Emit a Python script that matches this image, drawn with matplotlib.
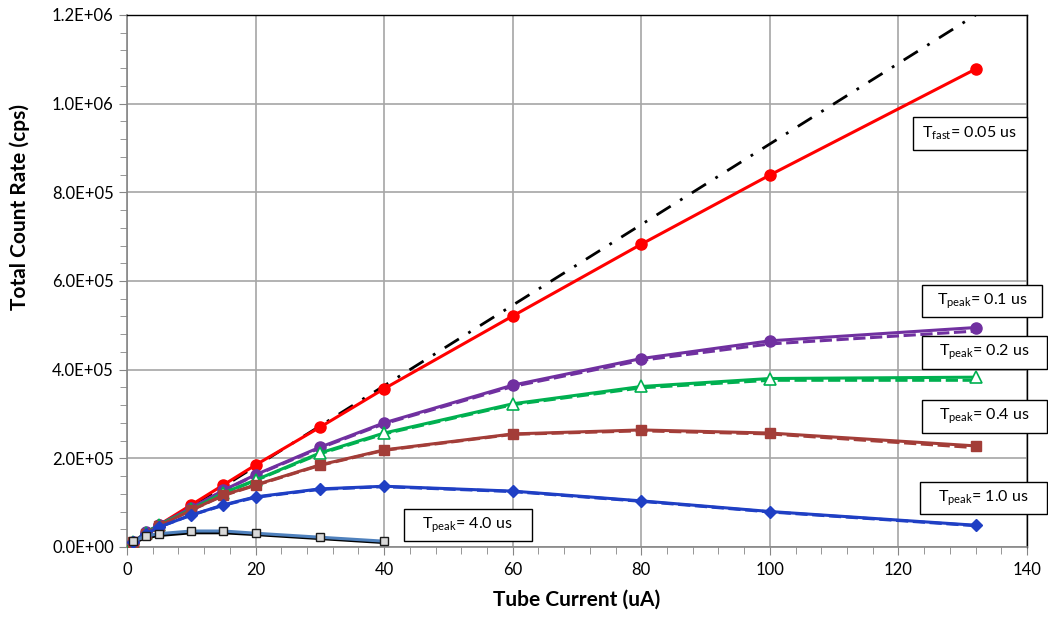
import numpy as np
import matplotlib.pyplot as plt
from matplotlib.patches import Rectangle
from matplotlib.ticker import MultipleLocator, FuncFormatter

plt.rcParams['font.family'] = ['Lato', 'DejaVu Sans']
plt.rcParams['mathtext.fontset'] = 'custom'
plt.rcParams['mathtext.rm'] = 'Lato'
plt.rcParams['mathtext.it'] = 'Lato'

# tube current (uA)
current = [1, 3, 5, 10, 15, 20, 30, 40, 60, 80, 100, 132]
current_4us = [1, 3, 5, 10, 15, 20, 30, 40]

# ideal (no dead time) line
ideal_x = [0, 132]
ideal_y = [0, 1.2e6]

# measured total count rates (cps)
fast_005 = [1.0e4, 3.0e4, 5.0e4, 9.5e4, 1.40e5, 1.85e5, 2.70e5, 3.57e5, 5.21e5, 6.83e5, 8.39e5, 1.078e6]
peak_01 = [1.1e4, 3.3e4, 5.0e4, 8.8e4, 1.28e5, 1.63e5, 2.25e5, 2.80e5, 3.65e5, 4.25e5, 4.65e5, 4.95e5]
peak_02 = [1.1e4, 3.2e4, 5.0e4, 8.5e4, 1.22e5, 1.51e5, 2.12e5, 2.57e5, 3.23e5, 3.62e5, 3.80e5, 3.83e5]
peak_04 = [1.1e4, 3.0e4, 4.8e4, 8.3e4, 1.17e5, 1.40e5, 1.85e5, 2.19e5, 2.55e5, 2.64e5, 2.57e5, 2.28e5]
peak_10 = [1.1e4, 3.0e4, 4.5e4, 7.2e4, 9.5e4, 1.13e5, 1.31e5, 1.37e5, 1.26e5, 1.04e5, 8.0e4, 4.9e4]
peak_40 = [1.3e4, 2.5e4, 3.0e4, 3.6e4, 3.6e4, 3.1e4, 2.2e4, 1.3e4]

# model curves (dashed / black)
peak_01_mod = [1.1e4, 3.3e4, 5.0e4, 8.8e4, 1.27e5, 1.62e5, 2.23e5, 2.78e5, 3.62e5, 4.21e5, 4.58e5, 4.87e5]
peak_02_mod = [1.1e4, 3.2e4, 5.0e4, 8.5e4, 1.21e5, 1.50e5, 2.10e5, 2.55e5, 3.21e5, 3.59e5, 3.76e5, 3.76e5]
peak_04_mod = [1.1e4, 3.0e4, 4.8e4, 8.3e4, 1.16e5, 1.39e5, 1.84e5, 2.18e5, 2.54e5, 2.62e5, 2.55e5, 2.24e5]
peak_10_mod = [1.1e4, 3.0e4, 4.5e4, 7.2e4, 9.4e4, 1.12e5, 1.30e5, 1.36e5, 1.25e5, 1.03e5, 7.9e4, 4.8e4]
peak_40_mod = [1.0e4, 2.1e4, 2.6e4, 3.2e4, 3.2e4, 2.8e4, 1.9e4, 1.0e4]

# annotation texts
label_text = [r'T$_{\mathrm{fast}}$= 0.05 us', r'T$_{\mathrm{peak}}$= 0.1 us',
              r'T$_{\mathrm{peak}}$= 0.2 us', r'T$_{\mathrm{peak}}$= 0.4 us',
              r'T$_{\mathrm{peak}}$= 1.0 us', r'T$_{\mathrm{peak}}$= 4.0 us']

fig = plt.figure(figsize=(10.48, 6.17), dpi=100)
ax = fig.add_axes([0.1212, 0.1135, 0.8588, 0.8622])

lw = 2.2
purple = '#7030a0'
green = '#00b050'
brown = '#a33d38'
blue = '#1f3fc4'

ax.plot(ideal_x, ideal_y, color='black', lw=2.0, dashes=(6, 4, 1, 4), zorder=3)

ax.plot(current, fast_005, color='#ff0000', lw=lw, marker='o', ms=8, zorder=4)

ax.plot(current, peak_01_mod, color=purple, lw=lw, ls=(0, (4, 1.5)), zorder=4)
ax.plot(current, peak_01, color=purple, lw=lw, marker='o', ms=8, zorder=5)

ax.plot(current, peak_02_mod, color=green, lw=lw, ls=(0, (4, 1.5)), zorder=4)
ax.plot(current, peak_02, color=green, lw=lw, marker='^', ms=8, mfc='white', mec=green, mew=1.2, zorder=5)

ax.plot(current, peak_04_mod, color=brown, lw=lw, ls=(0, (4, 1.5)), zorder=4)
ax.plot(current, peak_04, color=brown, lw=lw, marker='s', ms=7.5, zorder=5)

ax.plot(current, peak_10_mod, color=blue, lw=lw, ls=(0, (4, 1.5)), zorder=4)
ax.plot(current, peak_10, color=blue, lw=lw, marker='D', ms=6, zorder=5)

ax.plot(current_4us, peak_40_mod, color='black', lw=lw, zorder=4)
ax.plot(current_4us, peak_40, color='#4f81bd', lw=lw, marker='s', ms=6,
        mfc='#d9d9d9', mec='#1a1a1a', mew=1.0, zorder=5)

ax.set_xlim(0, 140)
ax.set_ylim(0, 1.2e6)
ax.xaxis.set_major_locator(MultipleLocator(20))
ax.xaxis.set_minor_locator(MultipleLocator(4))
ax.yaxis.set_major_locator(MultipleLocator(2e5))
ax.yaxis.set_minor_locator(MultipleLocator(4e4))
ax.yaxis.set_major_formatter(FuncFormatter(lambda v, p: '{:.1E}'.format(v)))
ax.grid(True, which='major', color='#a6a6a6', lw=1.2)
ax.set_axisbelow(True)
ax.tick_params(which='both', direction='out', color='#868686', labelsize=12)
ax.tick_params(which='major', length=6)
ax.tick_params(which='minor', length=5)
ax.tick_params(axis='x', which='major', pad=5)
for s in ['left', 'bottom']:
    ax.spines[s].set_color('#868686')
    ax.spines[s].set_linewidth(1.2)
for s in ['top', 'right']:
    ax.spines[s].set_color('black')
    ax.spines[s].set_linewidth(1.0)

ax.set_xlabel('Tube Current (uA)', fontsize=15, fontweight='bold', labelpad=8)
ax.set_ylabel('Total Count Rate (cps)', fontsize=15, fontweight='bold')
ax.yaxis.set_label_coords(-0.108, 0.64)

# label boxes: centre x, centre y, width (data units)
box_x = [131.1, 133.0, 133.4, 133.4, 133.2, 53.0]
box_y = [0.933e6, 0.555e6, 0.439e6, 0.294e6, 0.1105e6, 0.0496e6]
box_w = [17.7, 18.8, 19.4, 19.4, 19.7, 19.9]
box_h = 0.074e6
for s, x, y, w in zip(label_text, box_x, box_y, box_w):
    ax.add_patch(Rectangle((x - w / 2, y - box_h / 2), w, box_h, fc='white',
                           ec='black', lw=1.0, clip_on=False, zorder=6))
    ax.text(x, y, s, fontsize=11.5, ha='center', va='center', clip_on=False, zorder=7)

fig.savefig('out.png', dpi=100)
